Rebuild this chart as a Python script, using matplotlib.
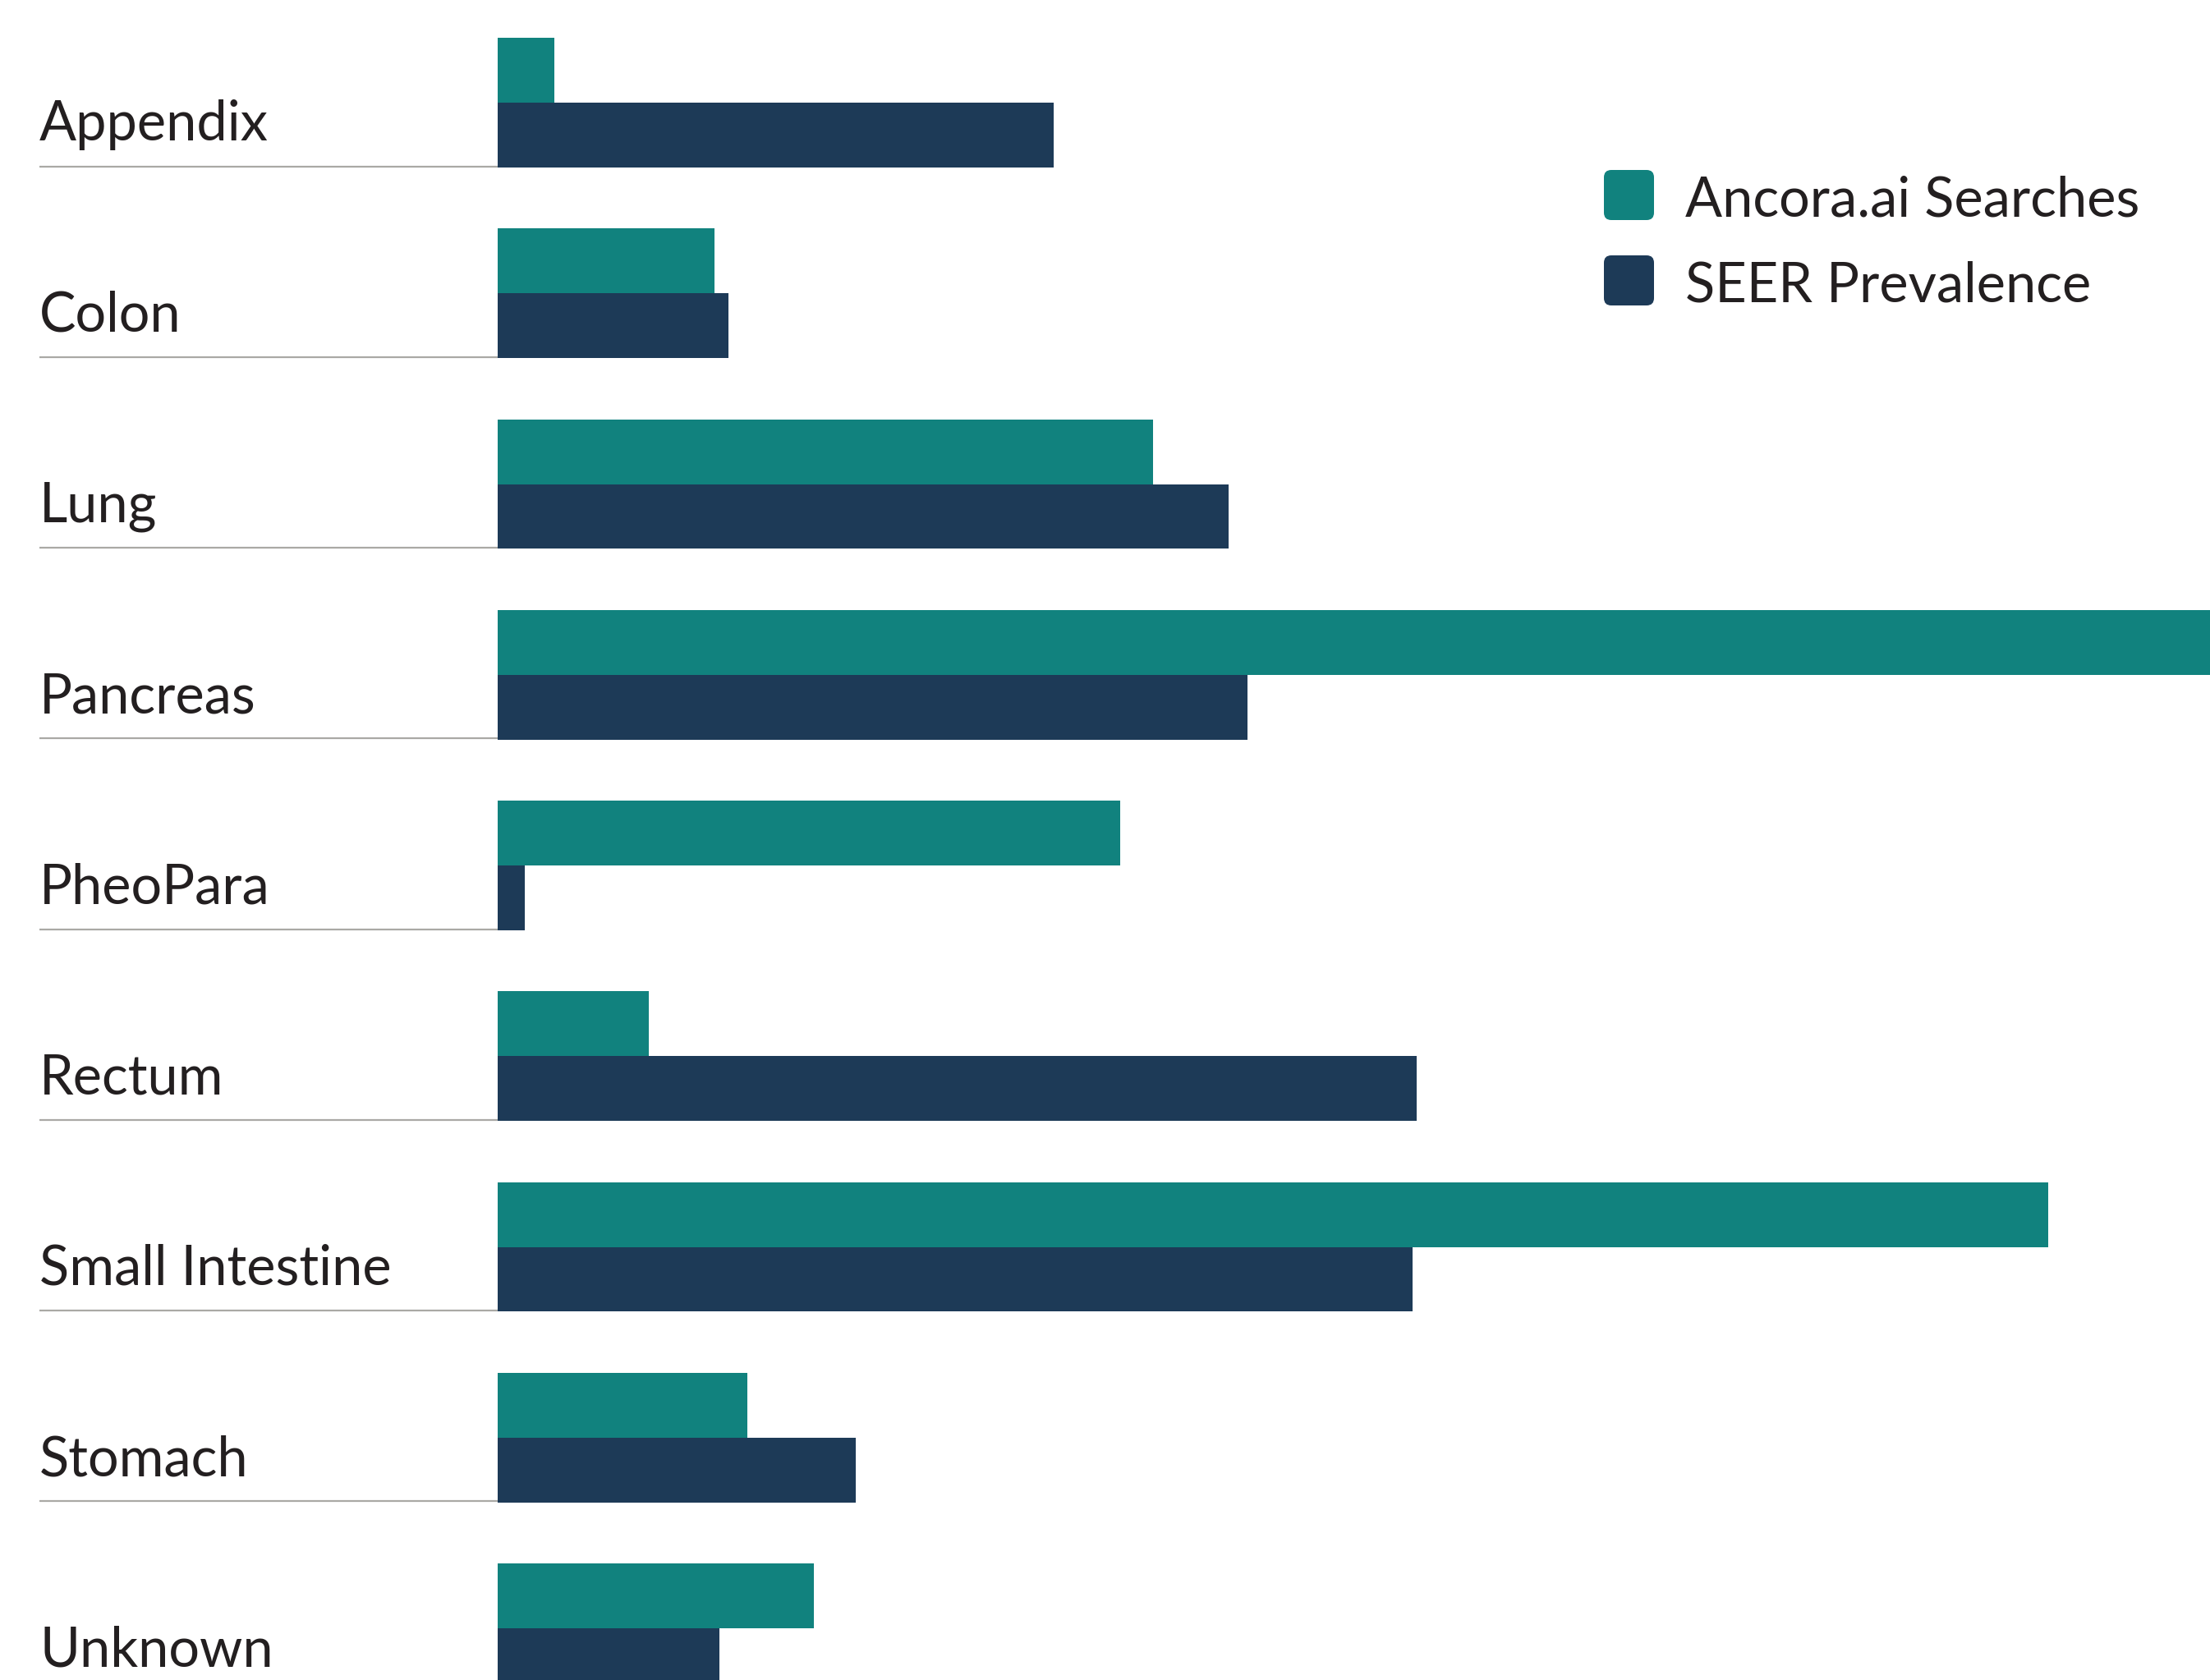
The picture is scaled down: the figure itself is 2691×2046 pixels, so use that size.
import matplotlib
matplotlib.use("Agg")
import matplotlib.pyplot as plt
from matplotlib.patches import FancyBboxPatch
import numpy as np

categories = ["Appendix", "Colon", "Lung", "Pancreas", "PheoPara", "Rectum",
              "Small Intestine", "Stomach", "Unknown"]
ancora_searches = [1.2, 4.6, 13.9, 38.0, 13.2, 3.2, 32.9, 5.3, 6.7]
seer_prevalence = [11.8, 4.9, 15.5, 15.9, 0.58, 19.5, 19.4, 7.6, 4.7]
series_names = ["Ancora.ai Searches", "SEER Prevalence"]
colors = ["#11827e", "#1d3a57"]
text_color = "#231f20"
line_color = "#aaa9a5"

W, H = 2691, 2046
fig = plt.figure(figsize=(W / 100, H / 100), dpi=100)
plt.rcParams['font.family'] = ['Lato', 'DejaVu Sans']

# axes: left edge at pixel 48, right edge at figure edge; spans full height
px_per_unit = 57.4
left_px, bar0_px = 48, 606
spacing_px, centre0_px = 232.25, 125.0
ax = fig.add_axes([left_px / W, 0, 1 - left_px / W, 1])
ax.set_xlim(-(bar0_px - left_px) / px_per_unit, (W - bar0_px) / px_per_unit)
ax.set_ylim((H - centre0_px) / spacing_px, -centre0_px / spacing_px)
ax.axis("off")

y = np.arange(len(categories))
h = 0.34
ax.barh(y - h / 2, ancora_searches, height=h, color=colors[0], label=series_names[0])
ax.barh(y + h / 2, seer_prevalence, height=h, color=colors[1], label=series_names[1])

xmin = ax.get_xlim()[0]
for i, cat in enumerate(categories):
    ax.plot([xmin, 0], [i + h - 0.006, i + h - 0.006], color=line_color, lw=1.6,
            solid_capstyle="butt")
    ax.text(xmin, i + h - 0.14, cat, fontsize=48, color=text_color,
            va="baseline", ha="left")

# legend in pixel coordinates
lax = fig.add_axes([0, 0, 1, 1])
lax.set_xlim(0, W)
lax.set_ylim(H, 0)
lax.axis("off")
sq = 61
for k, (name, c) in enumerate(zip(series_names, colors)):
    top = 207 + k * 104
    lax.add_patch(FancyBboxPatch((1953, top), sq, sq,
                                 boxstyle="round,pad=0,rounding_size=9",
                                 fc=c, ec="none"))
    lax.text(2052, top + 57, name, fontsize=48, color=text_color,
             va="baseline", ha="left")

fig.savefig("out.png", dpi=100)
